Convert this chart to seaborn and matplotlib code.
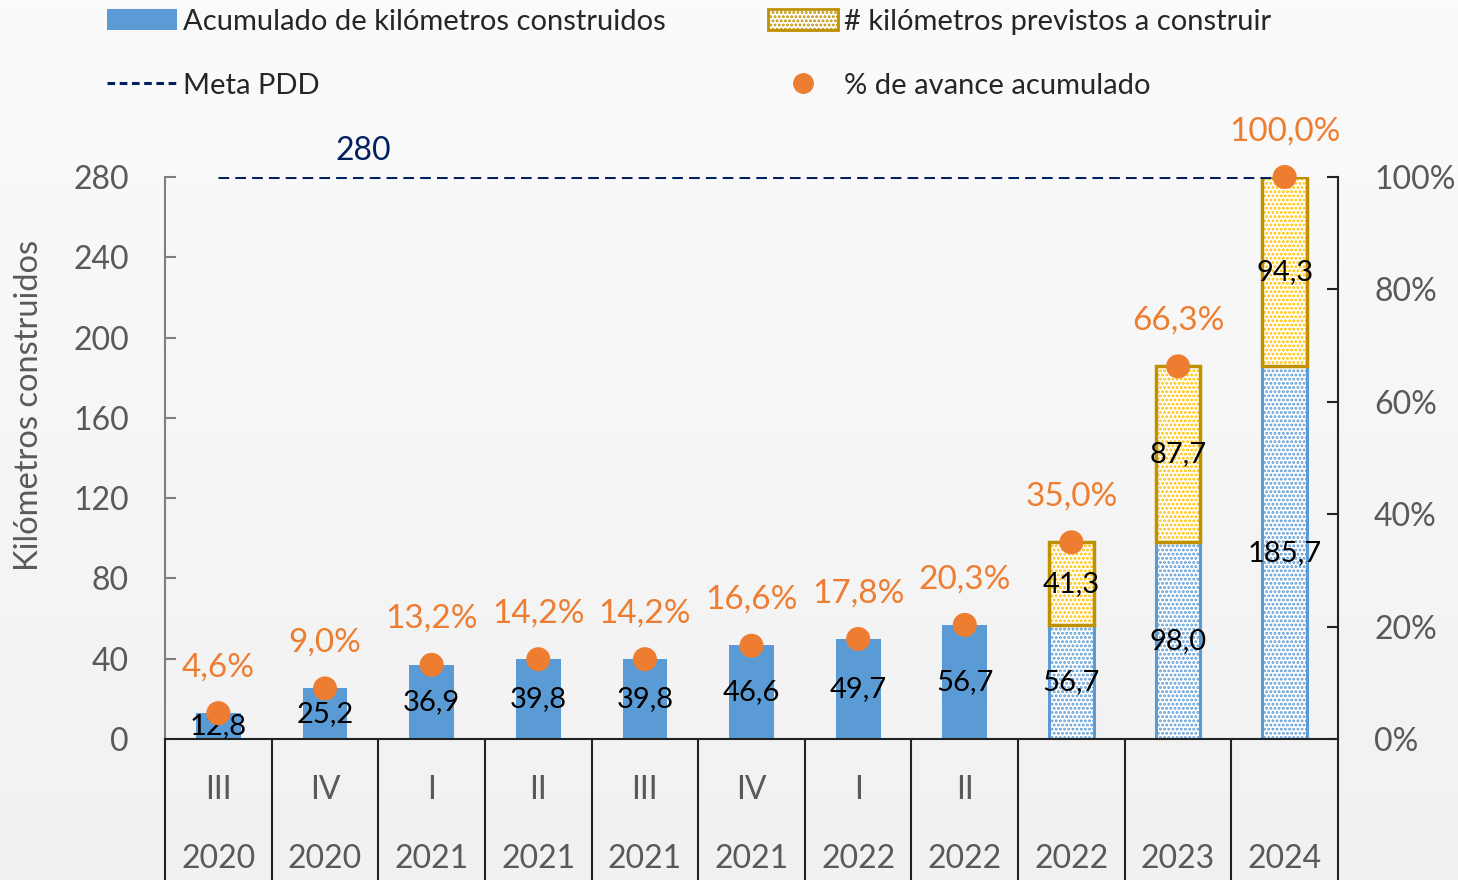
import numpy as np
import pandas as pd
import matplotlib.pyplot as plt
import seaborn as sns
from matplotlib.patches import Patch, Rectangle
from matplotlib.lines import Line2D
import matplotlib.transforms as mtransforms

# data
quarters = ['III', 'IV', 'I', 'II', 'III', 'IV', 'I', 'II', '', '', '']
years = ['2020', '2020', '2021', '2021', '2021', '2021', '2022', '2022', '2022', '2023', '2024']
built_km = [12.8, 25.2, 36.9, 39.8, 39.8, 46.6, 49.7, 56.7, 56.7, 98.0, 185.7]
planned_km = [0, 0, 0, 0, 0, 0, 0, 0, 41.3, 87.7, 94.3]
pct_advance = [4.6, 9.0, 13.2, 14.2, 14.2, 16.6, 17.8, 20.3, 35.0, 66.3, 100.0]
projected = [False] * 8 + [True] * 3
meta_pdd = [280] * 11

BLUE = '#5B9BD5'
YELLOW = '#FFC000'
GOLD = '#BF9000'
ORANGE = '#ED7D31'
NAVY = '#002060'
GRAY = '#595959'

periods = [f"{q} {y}".strip() for q, y in zip(quarters, years)]
df = pd.DataFrame({'period': periods, 'built': built_km, 'planned': planned_km,
                   'pct': pct_advance, 'meta': meta_pdd})
df['pos'] = np.arange(len(df))

sns.set_style('white')
plt.rcParams['font.family'] = ['Lato', 'DejaVu Sans']
plt.rcParams['hatch.linewidth'] = 1.4

fig = plt.figure(figsize=(14.58, 8.8), dpi=100)

# soft background gradient, lighter on top
bg = fig.add_axes([0, 0, 1, 1], zorder=-10)
grad = np.linspace(0, 1, 256).reshape(-1, 1)
bg.imshow(grad, aspect='auto', cmap=sns.blend_palette(['#fbfbfb', '#f1f1f1'], as_cmap=True),
          extent=[0, 1, 0, 1], origin='upper')
bg.axis('off')

ax = fig.add_axes([0.1132, 0.1602, 0.8045, 0.6387])
ax.patch.set_alpha(0)

sns.barplot(data=df, x='period', y='built', order=periods, color=BLUE, width=0.42,
            saturation=1, ax=ax, zorder=2)
sns.barplot(data=df, x='period', y='planned', order=periods, color=YELLOW, width=0.42,
            saturation=1, bottom=df['built'].values, ax=ax, zorder=2)

built_bars = ax.containers[0]
plan_bars = ax.containers[1]
for patch, proj in zip(built_bars.patches, projected):
    if proj:
        patch.set_facecolor('white')
        patch.set_edgecolor(BLUE)
        patch.set_hatch('....')
        patch.set_linewidth(2.2)
    else:
        patch.set_linewidth(0)
for patch in plan_bars.patches:
    if patch.get_height() <= 0:
        patch.set_visible(False)
        continue
    patch.set_facecolor('white')
    patch.set_edgecolor(YELLOW)
    patch.set_hatch('....')
    patch.set_linewidth(0)
    ax.add_patch(Rectangle((patch.get_x(), patch.get_y()), patch.get_width(), patch.get_height(),
                           fill=False, edgecolor=GOLD, linewidth=2.5, zorder=3))

fmt = lambda v: f"{v:.1f}".replace('.', ',')
ax.bar_label(built_bars, labels=[fmt(v) for v in built_km], label_type='center',
             fontsize=21, color='black', zorder=5)
ax.bar_label(plan_bars, labels=[fmt(v) if v > 0 else '' for v in planned_km],
             label_type='center', fontsize=21, color='black', zorder=5)

# Meta PDD
sns.lineplot(data=df, x='pos', y='meta', ax=ax, color=NAVY, linewidth=2.2,
             linestyle=(0, (3.5, 2)), zorder=4)
ax.annotate('280', (1.36, meta_pdd[0]), xytext=(0, 19), textcoords='offset points',
            ha='center', va='center', fontsize=23, color=NAVY)

ax.set_xlim(-0.5, len(df) - 0.5)
ax.set_ylim(0, 280)
ax.set_yticks(range(0, 281, 40))
ax.set_xticks([])
ax.set_xlabel('')
ax.set_ylabel('Kilómetros construidos', fontsize=23.5, color=GRAY)
ax.yaxis.set_label_coords(-0.103, 0.594)
ax.tick_params(axis='y', direction='in', length=8, width=1.5, color='#7f7f7f',
               labelsize=23, labelcolor=GRAY, pad=26, left=True)
for s in ['top', 'right']:
    ax.spines[s].set_visible(False)
ax.spines['left'].set_color('#7f7f7f')
ax.spines['left'].set_linewidth(1.5)
ax.spines['bottom'].set_color('#222222')
ax.spines['bottom'].set_linewidth(1.5)

# secondary axis with percent
ax2 = ax.twinx()
ax2.set_ylim(0, 100)
sns.scatterplot(data=df, x='pos', y='pct', ax=ax2, color=ORANGE, s=300,
                edgecolor='none', zorder=6, clip_on=False)
for x, p in zip(df['pos'], pct_advance):
    ax2.annotate(fmt(p) + '%', (x, p), xytext=(0, 33), textcoords='offset points',
                 ha='center', va='center', fontsize=24, color=ORANGE)
ax2.set_yticks(range(0, 101, 20))
ax2.set_yticklabels([f"{t}%" for t in range(0, 101, 20)])
ax2.set_ylabel('')
ax2.tick_params(axis='y', direction='in', length=8, width=1.5, color='#222222',
                labelsize=23, labelcolor=GRAY, pad=26, right=True)
for s in ['top', 'left', 'bottom']:
    ax2.spines[s].set_visible(False)
ax2.spines['right'].set_color('#222222')
ax2.spines['right'].set_linewidth(1.5)
ax2.set_xlim(-0.5, len(df) - 0.5)

# category table below the axis
trans = mtransforms.blended_transform_factory(ax.transData, ax.transAxes)
for edge in np.arange(-0.5, len(df), 1.0):
    ax.add_line(Line2D([edge, edge], [0, -0.3], transform=trans, color='#222222',
                       linewidth=1.5, clip_on=False))
for x, q, y in zip(df['pos'], quarters, years):
    ax.text(x, -0.09, q, transform=trans, ha='center', va='center', fontsize=23,
            color=GRAY)
    ax.text(x, -0.214, y, transform=trans, ha='center', va='center', fontsize=23,
            color=GRAY)

# legend
handles = [
    Patch(facecolor=BLUE, edgecolor='none'),
    Line2D([], [], color=NAVY, linewidth=2.2, linestyle=(0, (2.5, 1.5))),
    Patch(facecolor='white', edgecolor=GOLD, hatch='....', linewidth=2),
    Line2D([], [], color=ORANGE, marker='o', markersize=14, linestyle='none'),
]
labels = ['Acumulado de kilómetros construidos', 'Meta PDD',
          '# kilómetros previstos a construir', '% de avance acumulado']
fig.legend(handles, labels, loc='upper left', bbox_to_anchor=(0.0556, 1.02), ncol=2,
           frameon=False, fontsize=21, handlelength=2.4, handleheight=0.75,
           handletextpad=0.2, columnspacing=3.5, labelspacing=1.3)

fig.savefig('out.png', dpi=100)
